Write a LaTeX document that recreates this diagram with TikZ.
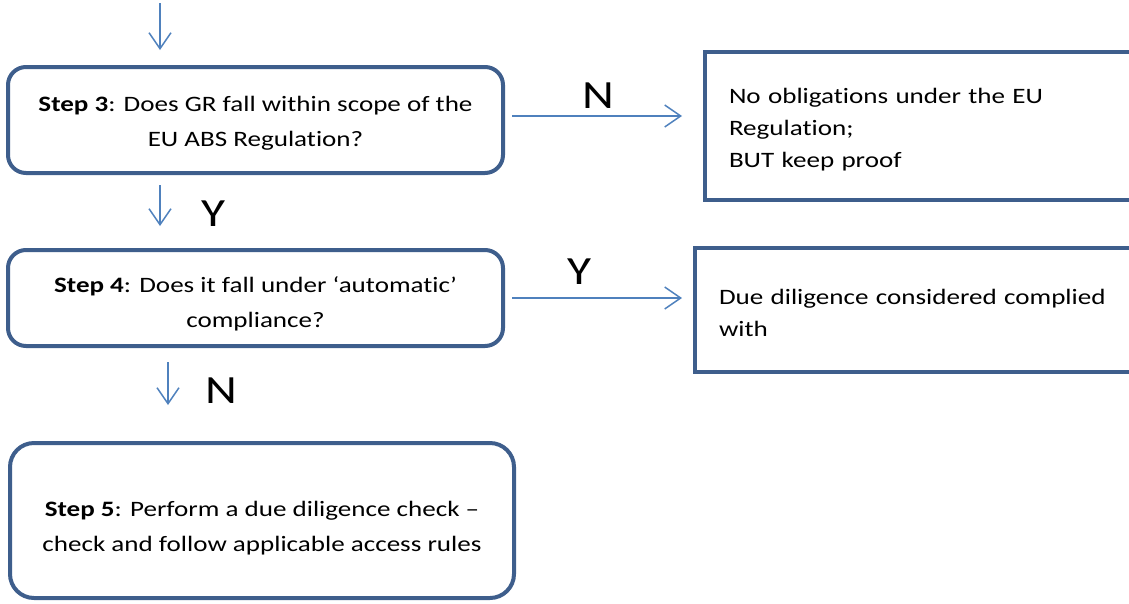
\documentclass[tikz,border=0pt]{standalone}
\usepackage{fontspec}
\setmainfont{Carlito}[FakeStretch=1.23, Ligatures=CommonOff]
\usetikzlibrary{arrows.meta,calc}
\definecolor{boxblue}{RGB}{62,94,140}
\definecolor{arrblue}{RGB}{79,129,189}
\newcommand\topstrut[1]{\rule{0pt}{#1}}
\tikzset{
  stepbox/.style={draw=boxblue, line width=4pt, rounded corners=18pt, fill=white,
    align=center, inner sep=0pt, font=\fontsize{22}{35}\selectfont},
  outbox/.style={draw=boxblue, line width=4pt, fill=white, align=left,
    inner xsep=24pt, inner ysep=0pt, font=\fontsize{22}{32}\selectfont},
  arr/.style={draw=arrblue, line width=1.5pt, -{Straight Barb[length=16pt,width=22pt,line width=1.5pt]}},
  yn/.style={font=\fontsize{40}{48}\selectfont, inner sep=0pt}
}
\begin{document}
\begin{tikzpicture}[x=1pt,y=-1pt]
\useasboundingbox (0,0) rectangle (1129,603);
\clip (0,0) rectangle (1129,603);

\node[stepbox, minimum width=495pt, minimum height=106pt] (s3) at (255.5,120)
  {\topstrut{21.5pt}\textbf{Step 3}: Does GR fall within scope of the\\EU ABS Regulation?};
\node[stepbox, minimum width=495pt, minimum height=96pt] (s4) at (255.5,298)
  {\topstrut{27.5pt}\textbf{Step 4}: Does it fall under `automatic'\\compliance?};
\node[stepbox, rounded corners=24pt, minimum width=504pt, minimum height=155pt] (s5) at (262,520.5)
  {\topstrut{31.5pt}\textbf{Step 5}: Perform a due diligence check --\\check and follow applicable access rules};

\node[outbox, minimum height=148pt, text width=387pt] (r1) at (922.5,126)
  {\topstrut{23.5pt}No obligations under the EU\\Regulation;\\BUT keep proof};
\node[outbox, minimum height=124pt, text width=397pt] (r2) at (917.5,310)
  {\topstrut{20.5pt}Due diligence considered complied\\with};

\coordinate (top) at (160,3);
\coordinate (c2) at (168,0);

\draw[arr, shorten >=15pt] (top) -- (s3.north -| top);
\draw[arr, shorten <=10pt, shorten >=22pt] (s3.south -| top) -- (s4.north -| top);
\draw[arr, shorten <=14pt, shorten >=36pt] (s4.south -| c2) -- (s5.north -| c2);
\draw[arr, shorten <=7pt, shorten >=21pt] ([yshift=4pt]s3.east) -- ([yshift=4pt]s3.east -| r1.west);
\draw[arr, shorten <=7pt, shorten >=11pt] (s4.east) -- (s4.east -| r2.west);

\node[yn] (n1) at (598,96) {N};
\node[yn] (y1) at (213,214) {Y};
\node[yn] (y2) at (579,272) {Y};
\node[yn] (n2) at (221,391) {N};
\end{tikzpicture}
\end{document}
